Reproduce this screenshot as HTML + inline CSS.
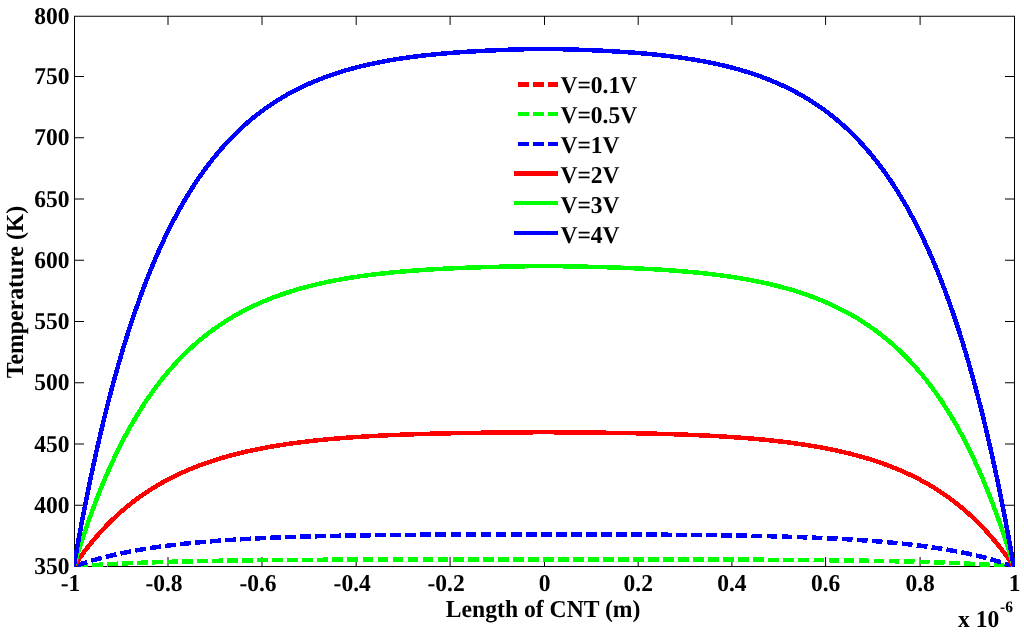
<!DOCTYPE html>
<html><head><meta charset="utf-8"><style>
html,body{margin:0;padding:0;background:#fff;}
svg{display:block;will-change:transform;}
text{text-rendering:geometricPrecision;font-family:"Liberation Serif",serif;font-weight:bold;font-size:23.5px;fill:#000;}
</style></head><body>
<svg width="1024" height="634" viewBox="0 0 1024 634">
<rect x="0" y="0" width="1024" height="634" fill="#fff"/>
<g stroke="#000" stroke-width="1" fill="none">
<rect x="74.5" y="16.25" width="940.0" height="550.25"/>
<line x1="168.00" y1="566.5" x2="168.00" y2="557.0"/>
<line x1="168.00" y1="16.25" x2="168.00" y2="24.95"/>
<line x1="262.00" y1="566.5" x2="262.00" y2="557.0"/>
<line x1="262.00" y1="16.25" x2="262.00" y2="24.95"/>
<line x1="356.20" y1="566.5" x2="356.20" y2="557.0"/>
<line x1="356.20" y1="16.25" x2="356.20" y2="24.95"/>
<line x1="450.10" y1="566.5" x2="450.10" y2="557.0"/>
<line x1="450.10" y1="16.25" x2="450.10" y2="24.95"/>
<line x1="544.50" y1="566.5" x2="544.50" y2="557.0"/>
<line x1="544.50" y1="16.25" x2="544.50" y2="24.95"/>
<line x1="638.20" y1="566.5" x2="638.20" y2="557.0"/>
<line x1="638.20" y1="16.25" x2="638.20" y2="24.95"/>
<line x1="731.90" y1="566.5" x2="731.90" y2="557.0"/>
<line x1="731.90" y1="16.25" x2="731.90" y2="24.95"/>
<line x1="825.60" y1="566.5" x2="825.60" y2="557.0"/>
<line x1="825.60" y1="16.25" x2="825.60" y2="24.95"/>
<line x1="920.10" y1="566.5" x2="920.10" y2="557.0"/>
<line x1="920.10" y1="16.25" x2="920.10" y2="24.95"/>
<line x1="74.5" y1="505.25" x2="84.0" y2="505.25"/>
<line x1="1014.5" y1="505.25" x2="1005.0" y2="505.25"/>
<line x1="74.5" y1="444.00" x2="84.0" y2="444.00"/>
<line x1="1014.5" y1="444.00" x2="1005.0" y2="444.00"/>
<line x1="74.5" y1="382.75" x2="84.0" y2="382.75"/>
<line x1="1014.5" y1="382.75" x2="1005.0" y2="382.75"/>
<line x1="74.5" y1="321.50" x2="84.0" y2="321.50"/>
<line x1="1014.5" y1="321.50" x2="1005.0" y2="321.50"/>
<line x1="74.5" y1="260.25" x2="84.0" y2="260.25"/>
<line x1="1014.5" y1="260.25" x2="1005.0" y2="260.25"/>
<line x1="74.5" y1="199.00" x2="84.0" y2="199.00"/>
<line x1="1014.5" y1="199.00" x2="1005.0" y2="199.00"/>
<line x1="74.5" y1="137.75" x2="84.0" y2="137.75"/>
<line x1="1014.5" y1="137.75" x2="1005.0" y2="137.75"/>
<line x1="74.5" y1="76.50" x2="84.0" y2="76.50"/>
<line x1="1014.5" y1="76.50" x2="1005.0" y2="76.50"/>
</g>
<clipPath id="c"><rect x="74.0" y="15.75" width="941.0" height="551.25"/></clipPath>
<g clip-path="url(#c)">
<polyline points="73.80,566.50 76.15,566.32 78.50,566.14 80.85,565.96 83.20,565.79 85.55,565.62 87.90,565.46 90.25,565.31 92.60,565.15 94.95,565.00 97.30,564.86 99.65,564.72 102.00,564.58 104.35,564.45 106.70,564.31 109.05,564.19 111.40,564.06 113.75,563.94 116.10,563.82 118.45,563.71 120.80,563.60 123.15,563.49 125.50,563.38 127.85,563.28 130.20,563.18 132.55,563.08 134.90,562.99 137.25,562.89 139.60,562.80 141.95,562.71 144.30,562.63 146.65,562.54 149.00,562.46 151.35,562.38 153.70,562.30 156.05,562.23 158.40,562.15 160.75,562.08 163.10,562.01 165.45,561.94 167.80,561.88 170.15,561.81 172.50,561.75 174.85,561.68 177.20,561.62 179.55,561.57 181.90,561.51 184.25,561.45 186.60,561.40 188.95,561.34 191.30,561.29 193.65,561.24 196.00,561.19 198.35,561.14 200.70,561.10 203.05,561.05 205.40,561.01 207.75,560.96 210.10,560.92 212.45,560.88 214.80,560.84 217.15,560.80 219.50,560.76 221.85,560.72 224.20,560.69 226.55,560.65 228.90,560.62 231.25,560.58 233.60,560.55 235.95,560.52 238.30,560.49 240.65,560.45 243.00,560.42 245.35,560.40 247.70,560.37 250.05,560.34 252.40,560.31 254.75,560.29 257.10,560.26 259.45,560.24 261.80,560.21 264.15,560.19 266.50,560.16 268.85,560.14 271.20,560.12 273.55,560.10 275.90,560.08 278.25,560.06 280.60,560.04 282.95,560.02 285.30,560.00 287.65,559.98 290.00,559.96 292.35,559.94 294.70,559.93 297.05,559.91 299.40,559.89 301.75,559.88 304.10,559.86 306.45,559.85 308.80,559.83 311.15,559.82 313.50,559.81 315.85,559.79 318.20,559.78 320.55,559.77 322.90,559.75 325.25,559.74 327.60,559.73 329.95,559.72 332.30,559.71 334.65,559.70 337.00,559.69 339.35,559.67 341.70,559.66 344.05,559.66 346.40,559.65 348.75,559.64 351.10,559.63 353.45,559.62 355.80,559.61 358.15,559.60 360.50,559.59 362.85,559.59 365.20,559.58 367.55,559.57 369.90,559.56 372.25,559.56 374.60,559.55 376.95,559.54 379.30,559.54 381.65,559.53 384.00,559.52 386.35,559.52 388.70,559.51 391.05,559.51 393.40,559.50 395.75,559.50 398.10,559.49 400.45,559.49 402.80,559.48 405.15,559.48 407.50,559.47 409.85,559.47 412.20,559.46 414.55,559.46 416.90,559.45 419.25,559.45 421.60,559.45 423.95,559.44 426.30,559.44 428.65,559.44 431.00,559.43 433.35,559.43 435.70,559.43 438.05,559.42 440.40,559.42 442.75,559.42 445.10,559.41 447.45,559.41 449.80,559.41 452.15,559.41 454.50,559.40 456.85,559.40 459.20,559.40 461.55,559.40 463.90,559.39 466.25,559.39 468.60,559.39 470.95,559.39 473.30,559.39 475.65,559.38 478.00,559.38 480.35,559.38 482.70,559.38 485.05,559.38 487.40,559.38 489.75,559.37 492.10,559.37 494.45,559.37 496.80,559.37 499.15,559.37 501.50,559.37 503.85,559.37 506.20,559.36 508.55,559.36 510.90,559.36 513.25,559.36 515.60,559.36 517.95,559.36 520.30,559.36 522.65,559.36 525.00,559.36 527.35,559.36 529.70,559.35 532.05,559.35 534.40,559.35 536.75,559.35 539.10,559.35 541.45,559.35 543.80,559.35 546.15,559.35 548.50,559.35 550.85,559.35 553.20,559.35 555.55,559.35 557.90,559.35 560.25,559.36 562.60,559.36 564.95,559.36 567.30,559.36 569.65,559.36 572.00,559.36 574.35,559.36 576.70,559.36 579.05,559.36 581.40,559.36 583.75,559.37 586.10,559.37 588.45,559.37 590.80,559.37 593.15,559.37 595.50,559.37 597.85,559.37 600.20,559.38 602.55,559.38 604.90,559.38 607.25,559.38 609.60,559.38 611.95,559.38 614.30,559.39 616.65,559.39 619.00,559.39 621.35,559.39 623.70,559.39 626.05,559.40 628.40,559.40 630.75,559.40 633.10,559.40 635.45,559.41 637.80,559.41 640.15,559.41 642.50,559.41 644.85,559.42 647.20,559.42 649.55,559.42 651.90,559.43 654.25,559.43 656.60,559.43 658.95,559.44 661.30,559.44 663.65,559.44 666.00,559.45 668.35,559.45 670.70,559.45 673.05,559.46 675.40,559.46 677.75,559.47 680.10,559.47 682.45,559.48 684.80,559.48 687.15,559.49 689.50,559.49 691.85,559.50 694.20,559.50 696.55,559.51 698.90,559.51 701.25,559.52 703.60,559.52 705.95,559.53 708.30,559.54 710.65,559.54 713.00,559.55 715.35,559.56 717.70,559.56 720.05,559.57 722.40,559.58 724.75,559.59 727.10,559.59 729.45,559.60 731.80,559.61 734.15,559.62 736.50,559.63 738.85,559.64 741.20,559.65 743.55,559.66 745.90,559.66 748.25,559.67 750.60,559.69 752.95,559.70 755.30,559.71 757.65,559.72 760.00,559.73 762.35,559.74 764.70,559.75 767.05,559.77 769.40,559.78 771.75,559.79 774.10,559.81 776.45,559.82 778.80,559.83 781.15,559.85 783.50,559.86 785.85,559.88 788.20,559.89 790.55,559.91 792.90,559.93 795.25,559.94 797.60,559.96 799.95,559.98 802.30,560.00 804.65,560.02 807.00,560.04 809.35,560.06 811.70,560.08 814.05,560.10 816.40,560.12 818.75,560.14 821.10,560.16 823.45,560.19 825.80,560.21 828.15,560.24 830.50,560.26 832.85,560.29 835.20,560.31 837.55,560.34 839.90,560.37 842.25,560.40 844.60,560.42 846.95,560.45 849.30,560.49 851.65,560.52 854.00,560.55 856.35,560.58 858.70,560.62 861.05,560.65 863.40,560.69 865.75,560.72 868.10,560.76 870.45,560.80 872.80,560.84 875.15,560.88 877.50,560.92 879.85,560.96 882.20,561.01 884.55,561.05 886.90,561.10 889.25,561.14 891.60,561.19 893.95,561.24 896.30,561.29 898.65,561.34 901.00,561.40 903.35,561.45 905.70,561.51 908.05,561.57 910.40,561.62 912.75,561.68 915.10,561.75 917.45,561.81 919.80,561.88 922.15,561.94 924.50,562.01 926.85,562.08 929.20,562.15 931.55,562.23 933.90,562.30 936.25,562.38 938.60,562.46 940.95,562.54 943.30,562.63 945.65,562.71 948.00,562.80 950.35,562.89 952.70,562.99 955.05,563.08 957.40,563.18 959.75,563.28 962.10,563.38 964.45,563.49 966.80,563.60 969.15,563.71 971.50,563.82 973.85,563.94 976.20,564.06 978.55,564.19 980.90,564.31 983.25,564.45 985.60,564.58 987.95,564.72 990.30,564.86 992.65,565.00 995.00,565.15 997.35,565.31 999.70,565.46 1002.05,565.62 1004.40,565.79 1006.75,565.96 1009.10,566.14 1011.45,566.32 1013.80,566.50" fill="none" stroke="#00ff00" stroke-width="4.5" stroke-linejoin="round" stroke-linecap="butt" shape-rendering="crispEdges" stroke-dasharray="10.8 4.234" stroke-dashoffset="11.83"/>
<polyline points="73.80,566.50 76.15,565.67 78.50,564.86 80.85,564.07 83.20,563.30 85.55,562.56 87.90,561.83 90.25,561.12 92.60,560.43 94.95,559.76 97.30,559.11 99.65,558.47 102.00,557.85 104.35,557.25 106.70,556.66 109.05,556.08 111.40,555.53 113.75,554.98 116.10,554.45 118.45,553.94 120.80,553.43 123.15,552.94 125.50,552.47 127.85,552.00 130.20,551.55 132.55,551.11 134.90,550.68 137.25,550.26 139.60,549.85 141.95,549.45 144.30,549.06 146.65,548.68 149.00,548.31 151.35,547.95 153.70,547.60 156.05,547.26 158.40,546.93 160.75,546.60 163.10,546.28 165.45,545.97 167.80,545.67 170.15,545.38 172.50,545.09 174.85,544.81 177.20,544.54 179.55,544.28 181.90,544.02 184.25,543.76 186.60,543.52 188.95,543.28 191.30,543.04 193.65,542.82 196.00,542.59 198.35,542.38 200.70,542.17 203.05,541.96 205.40,541.76 207.75,541.56 210.10,541.37 212.45,541.18 214.80,541.00 217.15,540.82 219.50,540.65 221.85,540.48 224.20,540.32 226.55,540.16 228.90,540.00 231.25,539.85 233.60,539.70 235.95,539.55 238.30,539.41 240.65,539.27 243.00,539.14 245.35,539.01 247.70,538.88 250.05,538.76 252.40,538.63 254.75,538.52 257.10,538.40 259.45,538.29 261.80,538.18 264.15,538.07 266.50,537.97 268.85,537.86 271.20,537.76 273.55,537.67 275.90,537.57 278.25,537.48 280.60,537.39 282.95,537.30 285.30,537.22 287.65,537.14 290.00,537.05 292.35,536.98 294.70,536.90 297.05,536.82 299.40,536.75 301.75,536.68 304.10,536.61 306.45,536.54 308.80,536.48 311.15,536.41 313.50,536.35 315.85,536.29 318.20,536.23 320.55,536.17 322.90,536.12 325.25,536.06 327.60,536.01 329.95,535.96 332.30,535.91 334.65,535.86 337.00,535.81 339.35,535.76 341.70,535.72 344.05,535.67 346.40,535.63 348.75,535.59 351.10,535.55 353.45,535.51 355.80,535.47 358.15,535.43 360.50,535.40 362.85,535.36 365.20,535.33 367.55,535.29 369.90,535.26 372.25,535.23 374.60,535.20 376.95,535.17 379.30,535.14 381.65,535.11 384.00,535.08 386.35,535.05 388.70,535.03 391.05,535.00 393.40,534.98 395.75,534.96 398.10,534.93 400.45,534.91 402.80,534.89 405.15,534.87 407.50,534.85 409.85,534.83 412.20,534.81 414.55,534.79 416.90,534.77 419.25,534.75 421.60,534.73 423.95,534.72 426.30,534.70 428.65,534.68 431.00,534.67 433.35,534.65 435.70,534.64 438.05,534.63 440.40,534.61 442.75,534.60 445.10,534.59 447.45,534.57 449.80,534.56 452.15,534.55 454.50,534.54 456.85,534.53 459.20,534.52 461.55,534.51 463.90,534.50 466.25,534.49 468.60,534.48 470.95,534.47 473.30,534.46 475.65,534.45 478.00,534.44 480.35,534.44 482.70,534.43 485.05,534.42 487.40,534.41 489.75,534.41 492.10,534.40 494.45,534.39 496.80,534.39 499.15,534.38 501.50,534.38 503.85,534.37 506.20,534.36 508.55,534.36 510.90,534.35 513.25,534.35 515.60,534.35 517.95,534.34 520.30,534.34 522.65,534.33 525.00,534.33 527.35,534.32 529.70,534.32 532.05,534.32 534.40,534.31 536.75,534.31 539.10,534.31 541.45,534.30 543.80,534.30 546.15,534.30 548.50,534.31 550.85,534.31 553.20,534.31 555.55,534.32 557.90,534.32 560.25,534.32 562.60,534.33 564.95,534.33 567.30,534.34 569.65,534.34 572.00,534.35 574.35,534.35 576.70,534.35 579.05,534.36 581.40,534.36 583.75,534.37 586.10,534.38 588.45,534.38 590.80,534.39 593.15,534.39 595.50,534.40 597.85,534.41 600.20,534.41 602.55,534.42 604.90,534.43 607.25,534.44 609.60,534.44 611.95,534.45 614.30,534.46 616.65,534.47 619.00,534.48 621.35,534.49 623.70,534.50 626.05,534.51 628.40,534.52 630.75,534.53 633.10,534.54 635.45,534.55 637.80,534.56 640.15,534.57 642.50,534.59 644.85,534.60 647.20,534.61 649.55,534.63 651.90,534.64 654.25,534.65 656.60,534.67 658.95,534.68 661.30,534.70 663.65,534.72 666.00,534.73 668.35,534.75 670.70,534.77 673.05,534.79 675.40,534.81 677.75,534.83 680.10,534.85 682.45,534.87 684.80,534.89 687.15,534.91 689.50,534.93 691.85,534.96 694.20,534.98 696.55,535.00 698.90,535.03 701.25,535.05 703.60,535.08 705.95,535.11 708.30,535.14 710.65,535.17 713.00,535.20 715.35,535.23 717.70,535.26 720.05,535.29 722.40,535.33 724.75,535.36 727.10,535.40 729.45,535.43 731.80,535.47 734.15,535.51 736.50,535.55 738.85,535.59 741.20,535.63 743.55,535.67 745.90,535.72 748.25,535.76 750.60,535.81 752.95,535.86 755.30,535.91 757.65,535.96 760.00,536.01 762.35,536.06 764.70,536.12 767.05,536.17 769.40,536.23 771.75,536.29 774.10,536.35 776.45,536.41 778.80,536.48 781.15,536.54 783.50,536.61 785.85,536.68 788.20,536.75 790.55,536.82 792.90,536.90 795.25,536.98 797.60,537.05 799.95,537.14 802.30,537.22 804.65,537.30 807.00,537.39 809.35,537.48 811.70,537.57 814.05,537.67 816.40,537.76 818.75,537.86 821.10,537.97 823.45,538.07 825.80,538.18 828.15,538.29 830.50,538.40 832.85,538.52 835.20,538.63 837.55,538.76 839.90,538.88 842.25,539.01 844.60,539.14 846.95,539.27 849.30,539.41 851.65,539.55 854.00,539.70 856.35,539.85 858.70,540.00 861.05,540.16 863.40,540.32 865.75,540.48 868.10,540.65 870.45,540.82 872.80,541.00 875.15,541.18 877.50,541.37 879.85,541.56 882.20,541.76 884.55,541.96 886.90,542.17 889.25,542.38 891.60,542.59 893.95,542.82 896.30,543.04 898.65,543.28 901.00,543.52 903.35,543.76 905.70,544.02 908.05,544.28 910.40,544.54 912.75,544.81 915.10,545.09 917.45,545.38 919.80,545.67 922.15,545.97 924.50,546.28 926.85,546.60 929.20,546.93 931.55,547.26 933.90,547.60 936.25,547.95 938.60,548.31 940.95,548.68 943.30,549.06 945.65,549.45 948.00,549.85 950.35,550.26 952.70,550.68 955.05,551.11 957.40,551.55 959.75,552.00 962.10,552.47 964.45,552.94 966.80,553.43 969.15,553.94 971.50,554.45 973.85,554.98 976.20,555.53 978.55,556.08 980.90,556.66 983.25,557.25 985.60,557.85 987.95,558.47 990.30,559.11 992.65,559.76 995.00,560.43 997.35,561.12 999.70,561.83 1002.05,562.56 1004.40,563.30 1006.75,564.07 1009.10,564.86 1011.45,565.67 1013.80,566.50" fill="none" stroke="#0000ff" stroke-width="4.5" stroke-linejoin="round" stroke-linecap="butt" shape-rendering="crispEdges" stroke-dasharray="10.8 4.249" stroke-dashoffset="11.69"/>
<polyline points="73.80,566.50 76.15,563.03 78.50,559.66 80.85,556.37 83.20,553.17 85.55,550.05 87.90,547.02 90.25,544.07 92.60,541.19 94.95,538.39 97.30,535.67 99.65,533.01 102.00,530.42 104.35,527.90 106.70,525.45 109.05,523.06 111.40,520.73 113.75,518.46 116.10,516.25 118.45,514.10 120.80,512.00 123.15,509.96 125.50,507.97 127.85,506.03 130.20,504.14 132.55,502.29 134.90,500.50 137.25,498.75 139.60,497.04 141.95,495.38 144.30,493.76 146.65,492.18 149.00,490.64 151.35,489.14 153.70,487.67 156.05,486.25 158.40,484.86 160.75,483.50 163.10,482.18 165.45,480.89 167.80,479.63 170.15,478.41 172.50,477.22 174.85,476.05 177.20,474.92 179.55,473.81 181.90,472.73 184.25,471.68 186.60,470.65 188.95,469.65 191.30,468.67 193.65,467.72 196.00,466.79 198.35,465.89 200.70,465.01 203.05,464.15 205.40,463.31 207.75,462.49 210.10,461.69 212.45,460.91 214.80,460.15 217.15,459.41 219.50,458.69 221.85,457.99 224.20,457.30 226.55,456.63 228.90,455.98 231.25,455.34 233.60,454.72 235.95,454.11 238.30,453.52 240.65,452.95 243.00,452.39 245.35,451.84 247.70,451.31 250.05,450.78 252.40,450.28 254.75,449.78 257.10,449.30 259.45,448.83 261.80,448.37 264.15,447.92 266.50,447.49 268.85,447.06 271.20,446.65 273.55,446.25 275.90,445.85 278.25,445.47 280.60,445.09 282.95,444.73 285.30,444.37 287.65,444.03 290.00,443.69 292.35,443.36 294.70,443.04 297.05,442.73 299.40,442.42 301.75,442.13 304.10,441.84 306.45,441.56 308.80,441.28 311.15,441.02 313.50,440.76 315.85,440.50 318.20,440.25 320.55,440.01 322.90,439.78 325.25,439.55 327.60,439.33 329.95,439.11 332.30,438.90 334.65,438.70 337.00,438.50 339.35,438.30 341.70,438.11 344.05,437.93 346.40,437.75 348.75,437.58 351.10,437.41 353.45,437.24 355.80,437.08 358.15,436.92 360.50,436.77 362.85,436.62 365.20,436.48 367.55,436.34 369.90,436.20 372.25,436.07 374.60,435.94 376.95,435.82 379.30,435.69 381.65,435.58 384.00,435.46 386.35,435.35 388.70,435.24 391.05,435.13 393.40,435.03 395.75,434.93 398.10,434.83 400.45,434.74 402.80,434.65 405.15,434.56 407.50,434.47 409.85,434.39 412.20,434.31 414.55,434.23 416.90,434.15 419.25,434.08 421.60,434.01 423.95,433.94 426.30,433.87 428.65,433.80 431.00,433.74 433.35,433.68 435.70,433.62 438.05,433.56 440.40,433.50 442.75,433.45 445.10,433.39 447.45,433.34 449.80,433.29 452.15,433.24 454.50,433.20 456.85,433.15 459.20,433.11 461.55,433.06 463.90,433.02 466.25,432.98 468.60,432.94 470.95,432.91 473.30,432.87 475.65,432.84 478.00,432.80 480.35,432.77 482.70,432.74 485.05,432.71 487.40,432.68 489.75,432.65 492.10,432.62 494.45,432.59 496.80,432.57 499.15,432.54 501.50,432.52 503.85,432.49 506.20,432.47 508.55,432.45 510.90,432.43 513.25,432.41 515.60,432.39 517.95,432.37 520.30,432.35 522.65,432.33 525.00,432.32 527.35,432.30 529.70,432.28 532.05,432.27 534.40,432.25 536.75,432.24 539.10,432.23 541.45,432.21 543.80,432.20 546.15,432.21 548.50,432.23 550.85,432.24 553.20,432.25 555.55,432.27 557.90,432.28 560.25,432.30 562.60,432.32 564.95,432.33 567.30,432.35 569.65,432.37 572.00,432.39 574.35,432.41 576.70,432.43 579.05,432.45 581.40,432.47 583.75,432.49 586.10,432.52 588.45,432.54 590.80,432.57 593.15,432.59 595.50,432.62 597.85,432.65 600.20,432.68 602.55,432.71 604.90,432.74 607.25,432.77 609.60,432.80 611.95,432.84 614.30,432.87 616.65,432.91 619.00,432.94 621.35,432.98 623.70,433.02 626.05,433.06 628.40,433.11 630.75,433.15 633.10,433.20 635.45,433.24 637.80,433.29 640.15,433.34 642.50,433.39 644.85,433.45 647.20,433.50 649.55,433.56 651.90,433.62 654.25,433.68 656.60,433.74 658.95,433.80 661.30,433.87 663.65,433.94 666.00,434.01 668.35,434.08 670.70,434.15 673.05,434.23 675.40,434.31 677.75,434.39 680.10,434.47 682.45,434.56 684.80,434.65 687.15,434.74 689.50,434.83 691.85,434.93 694.20,435.03 696.55,435.13 698.90,435.24 701.25,435.35 703.60,435.46 705.95,435.58 708.30,435.69 710.65,435.82 713.00,435.94 715.35,436.07 717.70,436.20 720.05,436.34 722.40,436.48 724.75,436.62 727.10,436.77 729.45,436.92 731.80,437.08 734.15,437.24 736.50,437.41 738.85,437.58 741.20,437.75 743.55,437.93 745.90,438.11 748.25,438.30 750.60,438.50 752.95,438.70 755.30,438.90 757.65,439.11 760.00,439.33 762.35,439.55 764.70,439.78 767.05,440.01 769.40,440.25 771.75,440.50 774.10,440.76 776.45,441.02 778.80,441.28 781.15,441.56 783.50,441.84 785.85,442.13 788.20,442.42 790.55,442.73 792.90,443.04 795.25,443.36 797.60,443.69 799.95,444.03 802.30,444.37 804.65,444.73 807.00,445.09 809.35,445.47 811.70,445.85 814.05,446.25 816.40,446.65 818.75,447.06 821.10,447.49 823.45,447.92 825.80,448.37 828.15,448.83 830.50,449.30 832.85,449.78 835.20,450.28 837.55,450.78 839.90,451.31 842.25,451.84 844.60,452.39 846.95,452.95 849.30,453.52 851.65,454.11 854.00,454.72 856.35,455.34 858.70,455.98 861.05,456.63 863.40,457.30 865.75,457.99 868.10,458.69 870.45,459.41 872.80,460.15 875.15,460.91 877.50,461.69 879.85,462.49 882.20,463.31 884.55,464.15 886.90,465.01 889.25,465.89 891.60,466.79 893.95,467.72 896.30,468.67 898.65,469.65 901.00,470.65 903.35,471.68 905.70,472.73 908.05,473.81 910.40,474.92 912.75,476.05 915.10,477.22 917.45,478.41 919.80,479.63 922.15,480.89 924.50,482.18 926.85,483.50 929.20,484.86 931.55,486.25 933.90,487.67 936.25,489.14 938.60,490.64 940.95,492.18 943.30,493.76 945.65,495.38 948.00,497.04 950.35,498.75 952.70,500.50 955.05,502.29 957.40,504.14 959.75,506.03 962.10,507.97 964.45,509.96 966.80,512.00 969.15,514.10 971.50,516.25 973.85,518.46 976.20,520.73 978.55,523.06 980.90,525.45 983.25,527.90 985.60,530.42 987.95,533.01 990.30,535.67 992.65,538.39 995.00,541.19 997.35,544.07 999.70,547.02 1002.05,550.05 1004.40,553.17 1006.75,556.37 1009.10,559.66 1011.45,563.03 1013.80,566.50" fill="none" stroke="#ff0000" stroke-width="4.5" stroke-linejoin="round" stroke-linecap="butt" shape-rendering="crispEdges"/>
<polyline points="73.80,566.50 76.15,558.74 78.50,551.18 80.85,543.83 83.20,536.67 85.55,529.70 87.90,522.92 90.25,516.31 92.60,509.87 94.95,503.61 97.30,497.51 99.65,491.57 102.00,485.78 104.35,480.14 106.70,474.65 109.05,469.30 111.40,464.09 113.75,459.02 116.10,454.07 118.45,449.26 120.80,444.56 123.15,439.99 125.50,435.53 127.85,431.19 130.20,426.96 132.55,422.84 134.90,418.82 137.25,414.90 139.60,411.08 141.95,407.36 144.30,403.74 146.65,400.20 149.00,396.76 151.35,393.40 153.70,390.12 156.05,386.93 158.40,383.82 160.75,380.79 163.10,377.83 165.45,374.95 167.80,372.14 170.15,369.40 172.50,366.72 174.85,364.12 177.20,361.58 179.55,359.10 181.90,356.69 184.25,354.33 186.60,352.03 188.95,349.79 191.30,347.61 193.65,345.48 196.00,343.40 198.35,341.38 200.70,339.40 203.05,337.48 205.40,335.60 207.75,333.77 210.10,331.98 212.45,330.24 214.80,328.54 217.15,326.89 219.50,325.27 221.85,323.70 224.20,322.16 226.55,320.66 228.90,319.20 231.25,317.78 233.60,316.39 235.95,315.03 238.30,313.71 240.65,312.42 243.00,311.17 245.35,309.94 247.70,308.75 250.05,307.58 252.40,306.45 254.75,305.34 257.10,304.26 259.45,303.21 261.80,302.18 264.15,301.18 266.50,300.21 268.85,299.26 271.20,298.33 273.55,297.43 275.90,296.55 278.25,295.69 280.60,294.85 282.95,294.04 285.30,293.24 287.65,292.47 290.00,291.71 292.35,290.97 294.70,290.26 297.05,289.56 299.40,288.88 301.75,288.21 304.10,287.57 306.45,286.94 308.80,286.32 311.15,285.73 313.50,285.14 315.85,284.58 318.20,284.02 320.55,283.48 322.90,282.96 325.25,282.45 327.60,281.95 329.95,281.47 332.30,281.00 334.65,280.54 337.00,280.09 339.35,279.66 341.70,279.23 344.05,278.82 346.40,278.42 348.75,278.03 351.10,277.65 353.45,277.28 355.80,276.92 358.15,276.57 360.50,276.23 362.85,275.90 365.20,275.58 367.55,275.26 369.90,274.96 372.25,274.66 374.60,274.37 376.95,274.09 379.30,273.82 381.65,273.55 384.00,273.30 386.35,273.05 388.70,272.80 391.05,272.57 393.40,272.34 395.75,272.11 398.10,271.90 400.45,271.68 402.80,271.48 405.15,271.28 407.50,271.09 409.85,270.90 412.20,270.72 414.55,270.54 416.90,270.37 419.25,270.20 421.60,270.04 423.95,269.89 426.30,269.73 428.65,269.59 431.00,269.44 433.35,269.30 435.70,269.17 438.05,269.04 440.40,268.91 442.75,268.79 445.10,268.67 447.45,268.55 449.80,268.44 452.15,268.33 454.50,268.23 456.85,268.13 459.20,268.03 461.55,267.93 463.90,267.84 466.25,267.75 468.60,267.66 470.95,267.58 473.30,267.50 475.65,267.42 478.00,267.34 480.35,267.27 482.70,267.20 485.05,267.13 487.40,267.06 489.75,267.00 492.10,266.94 494.45,266.88 496.80,266.82 499.15,266.76 501.50,266.71 503.85,266.66 506.20,266.61 508.55,266.56 510.90,266.51 513.25,266.46 515.60,266.42 517.95,266.38 520.30,266.34 522.65,266.30 525.00,266.26 527.35,266.22 529.70,266.19 532.05,266.15 534.40,266.12 536.75,266.09 539.10,266.06 541.45,266.03 543.80,266.00 546.15,266.03 548.50,266.06 550.85,266.09 553.20,266.12 555.55,266.15 557.90,266.19 560.25,266.22 562.60,266.26 564.95,266.30 567.30,266.34 569.65,266.38 572.00,266.42 574.35,266.46 576.70,266.51 579.05,266.56 581.40,266.61 583.75,266.66 586.10,266.71 588.45,266.76 590.80,266.82 593.15,266.88 595.50,266.94 597.85,267.00 600.20,267.06 602.55,267.13 604.90,267.20 607.25,267.27 609.60,267.34 611.95,267.42 614.30,267.50 616.65,267.58 619.00,267.66 621.35,267.75 623.70,267.84 626.05,267.93 628.40,268.03 630.75,268.13 633.10,268.23 635.45,268.33 637.80,268.44 640.15,268.55 642.50,268.67 644.85,268.79 647.20,268.91 649.55,269.04 651.90,269.17 654.25,269.30 656.60,269.44 658.95,269.59 661.30,269.73 663.65,269.89 666.00,270.04 668.35,270.20 670.70,270.37 673.05,270.54 675.40,270.72 677.75,270.90 680.10,271.09 682.45,271.28 684.80,271.48 687.15,271.68 689.50,271.90 691.85,272.11 694.20,272.34 696.55,272.57 698.90,272.80 701.25,273.05 703.60,273.30 705.95,273.55 708.30,273.82 710.65,274.09 713.00,274.37 715.35,274.66 717.70,274.96 720.05,275.26 722.40,275.58 724.75,275.90 727.10,276.23 729.45,276.57 731.80,276.92 734.15,277.28 736.50,277.65 738.85,278.03 741.20,278.42 743.55,278.82 745.90,279.23 748.25,279.66 750.60,280.09 752.95,280.54 755.30,281.00 757.65,281.47 760.00,281.95 762.35,282.45 764.70,282.96 767.05,283.48 769.40,284.02 771.75,284.58 774.10,285.14 776.45,285.73 778.80,286.32 781.15,286.94 783.50,287.57 785.85,288.21 788.20,288.88 790.55,289.56 792.90,290.26 795.25,290.97 797.60,291.71 799.95,292.47 802.30,293.24 804.65,294.04 807.00,294.85 809.35,295.69 811.70,296.55 814.05,297.43 816.40,298.33 818.75,299.26 821.10,300.21 823.45,301.18 825.80,302.18 828.15,303.21 830.50,304.26 832.85,305.34 835.20,306.45 837.55,307.58 839.90,308.75 842.25,309.94 844.60,311.17 846.95,312.42 849.30,313.71 851.65,315.03 854.00,316.39 856.35,317.78 858.70,319.20 861.05,320.66 863.40,322.16 865.75,323.70 868.10,325.27 870.45,326.89 872.80,328.54 875.15,330.24 877.50,331.98 879.85,333.77 882.20,335.60 884.55,337.48 886.90,339.40 889.25,341.38 891.60,343.40 893.95,345.48 896.30,347.61 898.65,349.79 901.00,352.03 903.35,354.33 905.70,356.69 908.05,359.10 910.40,361.58 912.75,364.12 915.10,366.72 917.45,369.40 919.80,372.14 922.15,374.95 924.50,377.83 926.85,380.79 929.20,383.82 931.55,386.93 933.90,390.12 936.25,393.40 938.60,396.76 940.95,400.20 943.30,403.74 945.65,407.36 948.00,411.08 950.35,414.90 952.70,418.82 955.05,422.84 957.40,426.96 959.75,431.19 962.10,435.53 964.45,439.99 966.80,444.56 969.15,449.26 971.50,454.07 973.85,459.02 976.20,464.09 978.55,469.30 980.90,474.65 983.25,480.14 985.60,485.78 987.95,491.57 990.30,497.51 992.65,503.61 995.00,509.87 997.35,516.31 999.70,522.92 1002.05,529.70 1004.40,536.67 1006.75,543.83 1009.10,551.18 1011.45,558.74 1013.80,566.50" fill="none" stroke="#00ff00" stroke-width="4.5" stroke-linejoin="round" stroke-linecap="butt" shape-rendering="crispEdges"/>
<polyline points="73.80,566.50 76.15,553.13 78.50,540.11 80.85,527.44 83.20,515.11 85.55,503.10 87.90,491.41 90.25,480.03 92.60,468.94 94.95,458.15 97.30,447.64 99.65,437.40 102.00,427.43 104.35,417.72 106.70,408.26 109.05,399.05 111.40,390.07 113.75,381.33 116.10,372.81 118.45,364.51 120.80,356.43 123.15,348.55 125.50,340.87 127.85,333.39 130.20,326.10 132.55,319.00 134.90,312.07 137.25,305.33 139.60,298.75 141.95,292.34 144.30,286.09 146.65,280.00 149.00,274.07 151.35,268.28 153.70,262.64 156.05,257.14 158.40,251.78 160.75,246.56 163.10,241.46 165.45,236.49 167.80,231.65 170.15,226.93 172.50,222.33 174.85,217.84 177.20,213.46 179.55,209.19 181.90,205.03 184.25,200.97 186.60,197.02 188.95,193.16 191.30,189.40 193.65,185.73 196.00,182.15 198.35,178.66 200.70,175.26 203.05,171.94 205.40,168.71 207.75,165.55 210.10,162.47 212.45,159.47 214.80,156.55 217.15,153.69 219.50,150.91 221.85,148.20 224.20,145.55 226.55,142.97 228.90,140.45 231.25,138.00 233.60,135.61 235.95,133.27 238.30,131.00 240.65,128.78 243.00,126.61 245.35,124.50 247.70,122.45 250.05,120.44 252.40,118.48 254.75,116.58 257.10,114.72 259.45,112.90 261.80,111.14 264.15,109.41 266.50,107.73 268.85,106.10 271.20,104.50 273.55,102.94 275.90,101.42 278.25,99.95 280.60,98.50 282.95,97.10 285.30,95.73 287.65,94.39 290.00,93.09 292.35,91.83 294.70,90.59 297.05,89.39 299.40,88.21 301.75,87.07 304.10,85.96 306.45,84.87 308.80,83.81 311.15,82.78 313.50,81.78 315.85,80.80 318.20,79.85 320.55,78.92 322.90,78.02 325.25,77.14 327.60,76.28 329.95,75.45 332.30,74.64 334.65,73.85 337.00,73.08 339.35,72.33 341.70,71.60 344.05,70.89 346.40,70.20 348.75,69.52 351.10,68.87 353.45,68.23 355.80,67.61 358.15,67.01 360.50,66.42 362.85,65.85 365.20,65.30 367.55,64.76 369.90,64.23 372.25,63.72 374.60,63.22 376.95,62.74 379.30,62.27 381.65,61.81 384.00,61.37 386.35,60.94 388.70,60.52 391.05,60.11 393.40,59.72 395.75,59.33 398.10,58.96 400.45,58.59 402.80,58.24 405.15,57.90 407.50,57.57 409.85,57.24 412.20,56.93 414.55,56.63 416.90,56.33 419.25,56.04 421.60,55.76 423.95,55.49 426.30,55.23 428.65,54.98 431.00,54.73 433.35,54.49 435.70,54.26 438.05,54.03 440.40,53.82 442.75,53.60 445.10,53.40 447.45,53.20 449.80,53.01 452.15,52.82 454.50,52.64 456.85,52.46 459.20,52.29 461.55,52.13 463.90,51.97 466.25,51.82 468.60,51.67 470.95,51.52 473.30,51.38 475.65,51.25 478.00,51.12 480.35,50.99 482.70,50.87 485.05,50.75 487.40,50.63 489.75,50.52 492.10,50.42 494.45,50.31 496.80,50.21 499.15,50.12 501.50,50.02 503.85,49.93 506.20,49.85 508.55,49.76 510.90,49.68 513.25,49.60 515.60,49.53 517.95,49.45 520.30,49.38 522.65,49.31 525.00,49.25 527.35,49.18 529.70,49.12 532.05,49.06 534.40,49.01 536.75,48.95 539.10,48.90 541.45,48.85 543.80,48.80 546.15,48.85 548.50,48.90 550.85,48.95 553.20,49.01 555.55,49.06 557.90,49.12 560.25,49.18 562.60,49.25 564.95,49.31 567.30,49.38 569.65,49.45 572.00,49.53 574.35,49.60 576.70,49.68 579.05,49.76 581.40,49.85 583.75,49.93 586.10,50.02 588.45,50.12 590.80,50.21 593.15,50.31 595.50,50.42 597.85,50.52 600.20,50.63 602.55,50.75 604.90,50.87 607.25,50.99 609.60,51.12 611.95,51.25 614.30,51.38 616.65,51.52 619.00,51.67 621.35,51.82 623.70,51.97 626.05,52.13 628.40,52.29 630.75,52.46 633.10,52.64 635.45,52.82 637.80,53.01 640.15,53.20 642.50,53.40 644.85,53.60 647.20,53.82 649.55,54.03 651.90,54.26 654.25,54.49 656.60,54.73 658.95,54.98 661.30,55.23 663.65,55.49 666.00,55.76 668.35,56.04 670.70,56.33 673.05,56.63 675.40,56.93 677.75,57.24 680.10,57.57 682.45,57.90 684.80,58.24 687.15,58.59 689.50,58.96 691.85,59.33 694.20,59.72 696.55,60.11 698.90,60.52 701.25,60.94 703.60,61.37 705.95,61.81 708.30,62.27 710.65,62.74 713.00,63.22 715.35,63.72 717.70,64.23 720.05,64.76 722.40,65.30 724.75,65.85 727.10,66.42 729.45,67.01 731.80,67.61 734.15,68.23 736.50,68.87 738.85,69.52 741.20,70.20 743.55,70.89 745.90,71.60 748.25,72.33 750.60,73.08 752.95,73.85 755.30,74.64 757.65,75.45 760.00,76.28 762.35,77.14 764.70,78.02 767.05,78.92 769.40,79.85 771.75,80.80 774.10,81.78 776.45,82.78 778.80,83.81 781.15,84.87 783.50,85.96 785.85,87.07 788.20,88.21 790.55,89.39 792.90,90.59 795.25,91.83 797.60,93.09 799.95,94.39 802.30,95.73 804.65,97.10 807.00,98.50 809.35,99.95 811.70,101.42 814.05,102.94 816.40,104.50 818.75,106.10 821.10,107.73 823.45,109.41 825.80,111.14 828.15,112.90 830.50,114.72 832.85,116.58 835.20,118.48 837.55,120.44 839.90,122.45 842.25,124.50 844.60,126.61 846.95,128.78 849.30,131.00 851.65,133.27 854.00,135.61 856.35,138.00 858.70,140.45 861.05,142.97 863.40,145.55 865.75,148.20 868.10,150.91 870.45,153.69 872.80,156.55 875.15,159.47 877.50,162.47 879.85,165.55 882.20,168.71 884.55,171.94 886.90,175.26 889.25,178.66 891.60,182.15 893.95,185.73 896.30,189.40 898.65,193.16 901.00,197.02 903.35,200.97 905.70,205.03 908.05,209.19 910.40,213.46 912.75,217.84 915.10,222.33 917.45,226.93 919.80,231.65 922.15,236.49 924.50,241.46 926.85,246.56 929.20,251.78 931.55,257.14 933.90,262.64 936.25,268.28 938.60,274.07 940.95,280.00 943.30,286.09 945.65,292.34 948.00,298.75 950.35,305.33 952.70,312.07 955.05,319.00 957.40,326.10 959.75,333.39 962.10,340.87 964.45,348.55 966.80,356.43 969.15,364.51 971.50,372.81 973.85,381.33 976.20,390.07 978.55,399.05 980.90,408.26 983.25,417.72 985.60,427.43 987.95,437.40 990.30,447.64 992.65,458.15 995.00,468.94 997.35,480.03 999.70,491.41 1002.05,503.10 1004.40,515.11 1006.75,527.44 1009.10,540.11 1011.45,553.13 1013.80,566.50" fill="none" stroke="#0000ff" stroke-width="4.5" stroke-linejoin="round" stroke-linecap="butt" shape-rendering="crispEdges"/>
</g>
<text transform="translate(69.50,574.10) scale(1,1.03)" text-anchor="end">350</text>
<text transform="translate(69.50,512.85) scale(1,1.03)" text-anchor="end">400</text>
<text transform="translate(69.50,451.60) scale(1,1.03)" text-anchor="end">450</text>
<text transform="translate(69.50,390.35) scale(1,1.03)" text-anchor="end">500</text>
<text transform="translate(69.50,329.10) scale(1,1.03)" text-anchor="end">550</text>
<text transform="translate(69.50,267.85) scale(1,1.03)" text-anchor="end">600</text>
<text transform="translate(69.50,206.60) scale(1,1.03)" text-anchor="end">650</text>
<text transform="translate(69.50,145.35) scale(1,1.03)" text-anchor="end">700</text>
<text transform="translate(69.50,84.10) scale(1,1.03)" text-anchor="end">750</text>
<text transform="translate(69.50,23.60) scale(1,1.03)" text-anchor="end">800</text>
<text transform="translate(70.50,590.50) scale(1,1.03)" text-anchor="middle">-1</text>
<text transform="translate(164.00,590.50) scale(1,1.03)" text-anchor="middle">-0.8</text>
<text transform="translate(258.00,590.50) scale(1,1.03)" text-anchor="middle">-0.6</text>
<text transform="translate(352.20,590.50) scale(1,1.03)" text-anchor="middle">-0.4</text>
<text transform="translate(446.10,590.50) scale(1,1.03)" text-anchor="middle">-0.2</text>
<text transform="translate(544.50,590.50) scale(1,1.03)" text-anchor="middle">0</text>
<text transform="translate(638.20,590.50) scale(1,1.03)" text-anchor="middle">0.2</text>
<text transform="translate(731.90,590.50) scale(1,1.03)" text-anchor="middle">0.4</text>
<text transform="translate(825.60,590.50) scale(1,1.03)" text-anchor="middle">0.6</text>
<text transform="translate(920.10,590.50) scale(1,1.03)" text-anchor="middle">0.8</text>
<text transform="translate(1014.50,590.50) scale(1,1.03)" text-anchor="middle">1</text>
<text transform="translate(445.80,616.50) scale(1,1.03)" style="font-size:23.65px">Length of CNT (m)</text>
<text transform="translate(22.50,292.00) rotate(-90) scale(1,1.03)" text-anchor="middle" style="font-size:23.8px">Temperature (K)</text>
<text transform="translate(958.00,627.00) scale(1,1.03)">x 10</text>
<text transform="translate(1000.00,612.00) scale(1,1.03)" style="font-size:15.5px">-6</text>
<line x1="514" y1="84.40" x2="558" y2="84.40" stroke="#ff0000" stroke-width="4.5" stroke-dasharray="10.8 4.2" stroke-dashoffset="11" shape-rendering="crispEdges"/>
<text transform="translate(560.50,92.60) scale(1,1.03)">V=0.1V</text>
<line x1="514" y1="114.10" x2="558" y2="114.10" stroke="#00ff00" stroke-width="4.5" stroke-dasharray="10.8 4.2" stroke-dashoffset="11" shape-rendering="crispEdges"/>
<text transform="translate(560.50,122.70) scale(1,1.03)">V=0.5V</text>
<line x1="514" y1="143.80" x2="558" y2="143.80" stroke="#0000ff" stroke-width="4.5" stroke-dasharray="10.8 4.2" stroke-dashoffset="11" shape-rendering="crispEdges"/>
<text transform="translate(560.50,152.80) scale(1,1.03)">V=1V</text>
<line x1="514" y1="173.50" x2="558" y2="173.50" stroke="#ff0000" stroke-width="4.5" shape-rendering="crispEdges"/>
<text transform="translate(560.50,182.90) scale(1,1.03)">V=2V</text>
<line x1="514" y1="203.20" x2="558" y2="203.20" stroke="#00ff00" stroke-width="4.5" shape-rendering="crispEdges"/>
<text transform="translate(560.50,213.00) scale(1,1.03)">V=3V</text>
<line x1="514" y1="232.90" x2="558" y2="232.90" stroke="#0000ff" stroke-width="4.5" shape-rendering="crispEdges"/>
<text transform="translate(560.50,243.10) scale(1,1.03)">V=4V</text>
</svg>
</body></html>
